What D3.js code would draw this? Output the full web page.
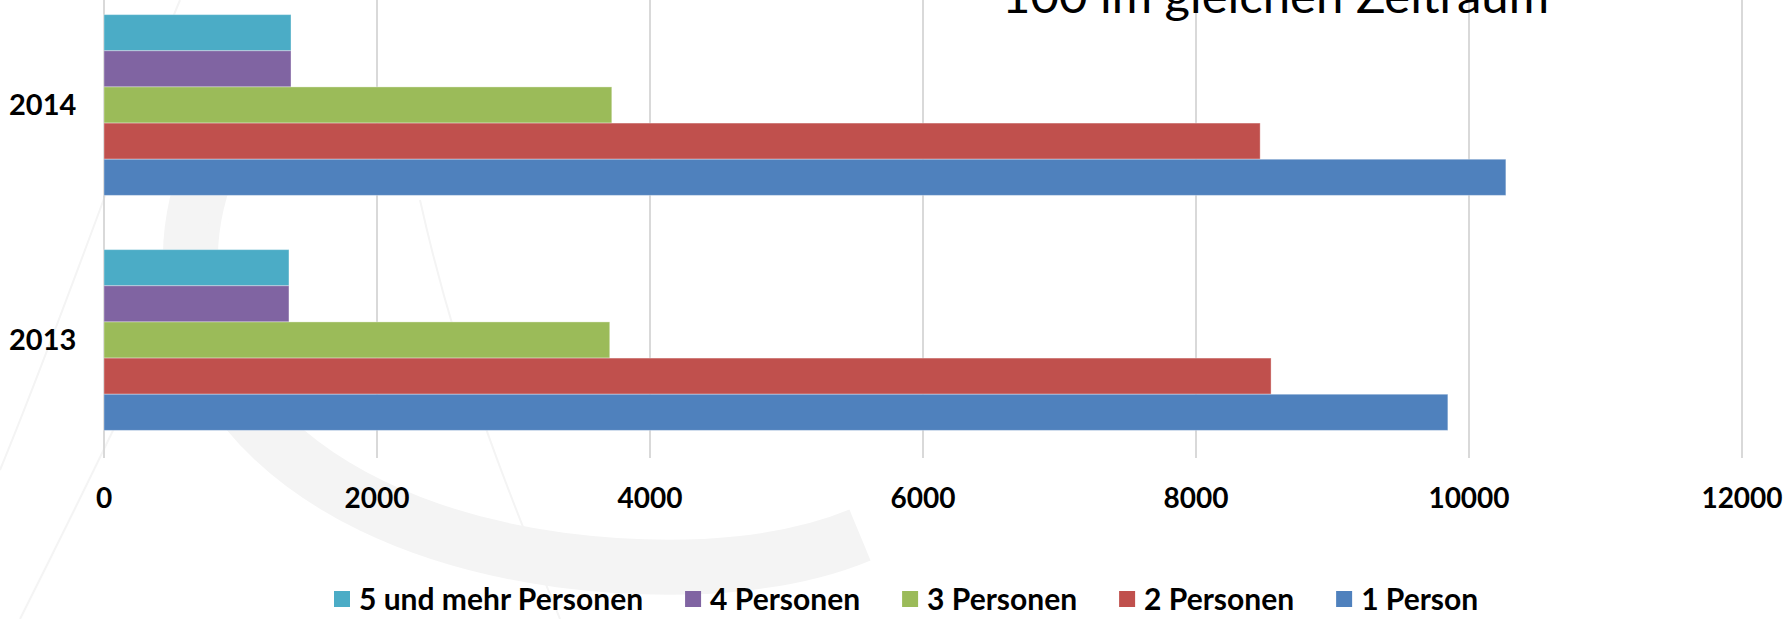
<!DOCTYPE html>
<html lang="de">
<head>
	<meta charset="UTF-8">
	<title>Haushalte nach Personen</title>
	<script src="https://d3js.org/d3.v7.min.js"></script>
	<style>
		html, body { margin: 0; padding: 0; background: #fff; }
		svg { display: block; font-family: Lato, "Open Sans", sans-serif; }
	</style>
</head>
<body>
<svg id="chart" width="1785" height="619"></svg>
<script>
var years = ["2014", "2013"];
var seriesNames = ["5 und mehr Personen", "4 Personen", "3 Personen", "2 Personen", "1 Person"];
var seriesColors = ["#4BACC6", "#8064A2", "#9BBB59", "#C0504D", "#4F81BD"];
// values per year, same order as seriesNames
var values2014 = [1370, 1370, 3720, 8470, 10270];
var values2013 = [1355, 1355, 3705, 8550, 9845];
var xTicks = [0, 2000, 4000, 6000, 8000, 10000, 12000];
var titleText = "100 im gleichen Zeitraum";

var valuesByYear = { "2014": values2014, "2013": values2013 };

var svg = d3.select("#chart");

// faint watermark in the background
var wm = svg.append("g").attr("fill", "none").attr("stroke", "#f4f4f4");
wm.append("path").attr("stroke-width", 55)
	.attr("d", "M 215,150 C 130,340 270,520 560,560 C 700,578 800,560 860,535");
wm.append("path").attr("stroke-width", 2)
	.attr("d", "M 0,470 C 70,300 130,120 180,0");
wm.append("path").attr("stroke-width", 2)
	.attr("d", "M 20,619 C 120,420 200,250 250,130");
wm.append("path").attr("stroke-width", 2)
	.attr("d", "M 420,200 C 460,380 520,520 560,619");

var x = d3.scaleLinear().domain([0, 12000]).range([104, 1742]);
var y = d3.scaleBand().domain(years).range([-12.5, 457.5]).padding(0);
// Excel gap width 150%: 5 bars + 1.5 bar gap per category
var barH = y.bandwidth() / 6.5;
var inner = d3.scaleBand().domain(seriesNames)
	.range([barH * 0.75, barH * 5.75]).padding(0);

// gridlines
svg.append("g").selectAll("line")
	.data(xTicks)
	.enter().append("line")
	.attr("x1", function(d){ return x(d); })
	.attr("x2", function(d){ return x(d); })
	.attr("y1", 0).attr("y2", 458)
	.attr("stroke", "#d9d9d9")
	.attr("stroke-width", 2);

// bars
var groups = svg.append("g").selectAll("g")
	.data(years)
	.enter().append("g")
	.attr("transform", function(d){ return "translate(0," + y(d) + ")"; });

groups.selectAll("rect")
	.data(function(yr){ return seriesNames.map(function(s, i){ return {name: s, i: i, v: valuesByYear[yr][i]}; }); })
	.enter().append("rect")
	.attr("x", x(0))
	.attr("y", function(d){ return inner(d.name); })
	.attr("width", function(d){ return x(d.v) - x(0); })
	.attr("height", inner.bandwidth())
	.attr("fill", function(d){ return seriesColors[d.i]; })
	.attr("stroke", "rgba(255,255,255,0.35)")
	.attr("stroke-width", 1);

// category labels
svg.append("g").selectAll("text")
	.data(years)
	.enter().append("text")
	.attr("x", 9)
	.attr("y", function(d){ return y(d) + y.bandwidth() / 2; })
	.attr("dy", "0.35em")
	.attr("font-size", 29)
	.attr("font-weight", "bold")
	.attr("fill", "#000")
	.text(function(d){ return d; });

// x axis labels
svg.append("g").selectAll("text")
	.data(xTicks)
	.enter().append("text")
	.attr("x", function(d){ return x(d); })
	.attr("y", 498)
	.attr("dy", "0.35em")
	.attr("text-anchor", "middle")
	.attr("font-size", 28)
	.attr("font-weight", "bold")
	.attr("fill", "#000")
	.text(function(d){ return d; });

// title (cut off at top)
svg.append("text")
	.attr("x", 1002)
	.attr("y", 13)
	.attr("font-size", 46)
	.attr("fill", "#000")
	.attr("textLength", 547)
	.attr("lengthAdjust", "spacingAndGlyphs")
	.text(titleText);

// legend
var legend = svg.append("g").attr("transform", "translate(0,599)");
var lx = 334;
seriesNames.forEach(function(name, i){
	var item = legend.append("g").attr("transform", "translate(" + lx + ",0)");
	item.append("rect")
		.attr("x", 0).attr("y", -8)
		.attr("width", 16).attr("height", 16)
		.attr("fill", seriesColors[i]);
	var t = item.append("text")
		.attr("x", 25)
		.attr("y", 0)
		.attr("dy", "0.35em")
		.attr("font-size", 30)
		.attr("font-weight", "bold")
		.attr("fill", "#000")
		.text(name);
	var w = t.node().getComputedTextLength();
	lx += 25 + w + 42;
});
</script>
</body>
</html>
